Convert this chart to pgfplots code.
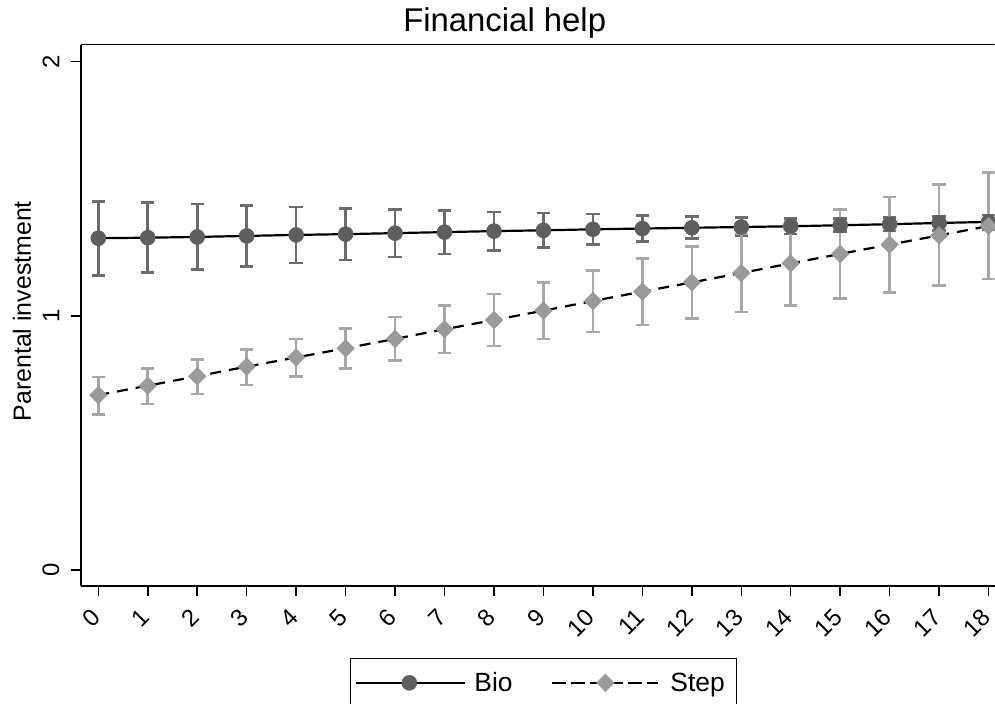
\documentclass[border=0pt]{standalone}
\usepackage{fontspec}
\setmainfont{Liberation Sans}
\usepackage{pgfplots}
\usepackage{pgfplotstable}
\pgfplotsset{compat=1.18}
\definecolor{biomark}{HTML}{5E5E5E}
\definecolor{biobar}{HTML}{6C6C6C}
\definecolor{stepmark}{HTML}{9A9A9A}
\definecolor{stepbar}{HTML}{A8A8A8}

\pgfplotstableread{
x y ep em
0 1.305 0.144 0.147
1 1.307 0.138 0.137
2 1.310 0.130 0.127
3 1.314 0.119 0.120
4 1.318 0.110 0.111
5 1.321 0.101 0.102
6 1.325 0.094 0.094
7 1.329 0.084 0.086
8 1.333 0.075 0.077
9 1.336 0.068 0.068
10 1.340 0.060 0.060
11 1.343 0.052 0.052
12 1.346 0.044 0.043
13 1.349 0.038 0.036
14 1.352 0.031 0.030
15 1.356 0.027 0.025
16 1.360 0.027 0.026
17 1.365 0.026 0.029
18 1.369 0.028 0.032
}\biotab

\pgfplotstableread{
x y ep em
0 0.688 0.071 0.076
1 0.725 0.068 0.072
2 0.762 0.067 0.070
3 0.800 0.068 0.072
4 0.836 0.073 0.076
5 0.872 0.079 0.079
6 0.909 0.086 0.084
7 0.947 0.093 0.094
8 0.983 0.103 0.102
9 1.020 0.111 0.111
10 1.058 0.121 0.122
11 1.095 0.131 0.131
12 1.131 0.142 0.141
13 1.168 0.153 0.153
14 1.206 0.165 0.165
15 1.243 0.176 0.176
16 1.280 0.187 0.188
17 1.316 0.201 0.198
18 1.353 0.211 0.208
}\steptab

\begin{document}
\begin{tikzpicture}
\useasboundingbox (0,0) rectangle (995bp,704bp);
\begin{axis}[
  at={(81bp,118bp)}, anchor=south west,
  scale only axis, width=913.5bp, height=541bp,
  xmin=-0.35, xmax=18.12, ymin=-0.063, ymax=2.065,
  axis x line*=bottom, axis y line*=left,
  axis line style={line width=2bp},
  xtick={0,...,18}, ytick={0,1,2},
  tick align=outside, major tick length=10bp,
  tick style={line width=1.5bp, black},
  /pgf/number format/assume math mode=true,
  xticklabel shift=15bp, yticklabel shift=8bp,
  x tick label style={rotate=45, anchor=east, font=\fontsize{24}{24}\selectfont},
  y tick label style={rotate=90, anchor=south, font=\fontsize{24}{24}\selectfont},
  title={Financial help},
  title style={at={(axis description cs:0.4638,1)}, anchor=base, yshift=7.3bp, font=\fontsize{33}{33}\selectfont},
  ylabel={Parental investment},
  ylabel style={at={(axis description cs:-0.0646,0.508)}, anchor=center, font=\fontsize{25}{25}\selectfont},
  legend columns=2,
  legend style={at={(axis description cs:0.2945,-0.1331)}, anchor=north west,
    draw=black, line width=1bp, inner xsep=4bp, inner ysep=2bp,
    font=\fontsize{26.5}{26.5}\selectfont,
    nodes={inner xsep=8bp, inner ysep=12bp},
    /tikz/every even column/.append style={column sep=30bp}},
  legend image code/.code={\path (0bp,0bp) -- (109.7bp,0bp); \draw[mark repeat=2,mark phase=2,#1] plot coordinates {(3.7bp,0bp) (53.7bp,0bp) (103.7bp,0bp)};},
]
\addplot[forget plot, draw=none, mark=none,
  error bars/.cd, y dir=both, y explicit,
  error bar style={draw=biobar, solid, line width=2.6bp},
  error mark options={draw=biobar, solid, line width=2.6bp, mark size=6.7bp, rotate=90}]
  table[x=x, y=y, y error plus=ep, y error minus=em]{\biotab};
\addplot[forget plot, draw=none, mark=none,
  error bars/.cd, y dir=both, y explicit,
  error bar style={draw=stepbar, solid, line width=2.6bp},
  error mark options={draw=stepbar, solid, line width=2.6bp, mark size=6.7bp, rotate=90}]
  table[x=x, y=y, y error plus=ep, y error minus=em]{\steptab};
\addplot[black, solid, line width=2.2bp, mark=*, mark size=7.5bp,
  mark options={solid, draw=biomark, fill=biomark, line width=0.5bp}]
  table[x=x, y=y]{\biotab};
\addlegendentry{Bio}
\addplot[black, line width=2.2bp, dash pattern=on 11bp off 8bp, mark=square*, mark size=6.2bp,
  mark options={solid, draw=stepmark, fill=stepmark, line width=0.5bp, rotate=45}]
  table[x=x, y=y]{\steptab};
\addlegendentry{Step}
\draw[line width=1bp] (rel axis cs:0,1) -- (rel axis cs:1,1);
\end{axis}
\end{tikzpicture}
\end{document}
